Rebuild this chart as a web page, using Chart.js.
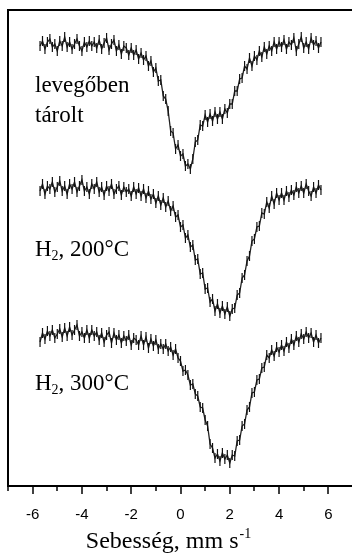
<!DOCTYPE html>
<html>
<head>
<meta charset="utf-8">
<script src="https://cdn.jsdelivr.net/npm/chart.js@4/dist/chart.umd.min.js"></script>
<style>
  html, body { margin: 0; padding: 0; background: #fff; overflow: hidden; }
  #wrap { width: 362px; height: 553px; }
</style>
</head>
<body>
<div id="wrap"><canvas id="mossbauer" width="362" height="553"></canvas></div>
<script>
// channel velocities, mm/s
const velocity = [
  -5.7, -5.6, -5.5, -5.4, -5.3, -5.2, -5.1, -5.0, -4.9, -4.8,
  -4.7, -4.6, -4.5, -4.4, -4.3, -4.2, -4.1, -4.0, -3.9, -3.8,
  -3.7, -3.6, -3.5, -3.4, -3.3, -3.2, -3.1, -3.0, -2.9, -2.8,
  -2.7, -2.6, -2.5, -2.4, -2.3, -2.2, -2.1, -2.0, -1.9, -1.8,
  -1.7, -1.6, -1.5, -1.4, -1.3, -1.2, -1.1, -1.0, -0.9, -0.8,
  -0.7, -0.6, -0.5, -0.4, -0.3, -0.2, -0.1, 0.0, 0.1, 0.2,
  0.3, 0.4, 0.5, 0.6, 0.7, 0.8, 0.9, 1.0, 1.1, 1.2,
  1.3, 1.4, 1.5, 1.6, 1.7, 1.8, 1.9, 2.0, 2.1, 2.2,
  2.3, 2.4, 2.5, 2.6, 2.7, 2.8, 2.9, 3.0, 3.1, 3.2,
  3.3, 3.4, 3.5, 3.6, 3.7, 3.8, 3.9, 4.0, 4.1, 4.2,
  4.3, 4.4, 4.5, 4.6, 4.7, 4.8, 4.9, 5.0, 5.1, 5.2,
  5.3, 5.4, 5.5, 5.6, 5.7
];

// levegőben tárolt (stacked, arbitrary units)
const storedInAir = [
  440, 445, 437, 444, 447, 439, 442, 435, 445, 440,
  449, 439, 444, 437, 442, 447, 440, 435, 444, 439,
  445, 440, 444, 438, 446, 437, 443, 448, 436, 442,
  446, 435, 441, 432, 440, 438, 431, 438, 431, 436,
  427, 433, 426, 430, 420, 425, 414, 418, 405, 406,
  390, 387, 375, 355, 353, 337, 341, 330, 332, 320,
  322, 317, 327, 344, 346, 361, 360, 371, 364, 372,
  365, 374, 367, 374, 367, 377, 373, 382, 382, 395,
  395, 407, 408, 420, 417, 428, 420, 430, 426, 435,
  429, 439, 432, 440, 435, 444, 437, 444, 439, 446,
  437, 444, 441, 448, 435, 442, 449, 438, 444, 437,
  448, 441, 445, 438, 444
];

// H2, 200 °C
const h2At200 = [
  295, 302, 292, 300, 297, 304, 294, 299, 305, 295,
  300, 292, 302, 297, 304, 294, 300, 306, 295, 299,
  292, 302, 297, 304, 294, 299, 291, 300, 295, 302,
  292, 297, 300, 291, 299, 294, 297, 290, 299, 292,
  298, 290, 297, 288, 295, 287, 292, 283, 290, 281,
  288, 279, 285, 275, 280, 269, 271, 259, 261, 248,
  251, 239, 241, 226, 227, 212, 213, 197, 198, 184,
  187, 175, 182, 173, 180, 172, 179, 170, 177, 178,
  191, 193, 208, 211, 225, 230, 245, 247, 259, 260,
  273, 272, 284, 278, 290, 282, 293, 286, 293, 286,
  295, 289, 296, 291, 299, 293, 300, 293, 302, 295,
  290, 299, 293, 301, 296
];

// H2, 300 °C
const h2At300 = [
  144, 153, 147, 155, 150, 156, 148, 152, 157, 149,
  158, 150, 159, 151, 156, 161, 150, 154, 148, 156,
  148, 156, 150, 154, 146, 153, 144, 151, 154, 143,
  153, 146, 151, 143, 150, 145, 151, 141, 148, 146,
  141, 150, 141, 149, 138, 147, 140, 146, 137, 142,
  137, 142, 135, 139, 131, 137, 128, 125, 115, 116,
  111, 101, 102, 92, 90, 79, 78, 66, 60, 42,
  38, 28, 32, 25, 33, 27, 31, 23, 31, 30,
  45, 46, 60, 62, 76, 79, 93, 94, 106, 107,
  118, 119, 131, 128, 136, 130, 139, 134, 141, 135,
  144, 138, 147, 141, 150, 144, 152, 147, 154, 148,
  153, 144, 151, 143, 148
];

const tickValues = [-7, -6, -5, -4, -3, -2, -1, 0, 1, 2, 3, 4, 5, 6, 7];
const tickLabels = [-6, -4, -2, 0, 2, 4, 6];

const serif = "'Liberation Serif', 'Times New Roman', serif";

function toPoints(ys) {
  return velocity.map((v, i) => ({ x: v, y: ys[i] }));
}

function spectrum(ys) {
  return {
    data: toPoints(ys),
    showLine: true,
    borderColor: '#222',
    borderWidth: 1.3,
    pointStyle: 'line',
    rotation: 90,
    pointRadius: 5,
    pointBorderColor: '#111',
    pointBorderWidth: 1.2,
    pointHoverRadius: 5
  };
}

// frame, minor/major ticks and the serif texts
const decorations = {
  id: 'decorations',
  afterDraw(chart) {
    const ctx = chart.ctx;
    const area = chart.chartArea;
    const xs = chart.scales.x;
    ctx.save();
    ctx.strokeStyle = '#000';
    ctx.lineWidth = 2;
    ctx.strokeRect(area.left, area.top, area.right - area.left, area.bottom - area.top);

    ctx.lineWidth = 1.5;
    tickValues.forEach(v => {
      const px = Math.round(xs.getPixelForValue(v));
      const len = tickLabels.includes(v) ? 8 : 5;
      ctx.beginPath();
      ctx.moveTo(px, area.bottom);
      ctx.lineTo(px, area.bottom + len);
      ctx.stroke();
    });

    ctx.fillStyle = '#000';
    ctx.textBaseline = 'alphabetic';
    ctx.textAlign = 'left';
    ctx.font = '23px ' + serif;
    ctx.fillText('levegőben', 35, 92);
    ctx.fillText('tárolt', 35, 122);

    function h2Label(temp, y) {
      let x = 35;
      ctx.font = '23px ' + serif;
      ctx.fillText('H', x, y);
      x += ctx.measureText('H').width;
      ctx.font = '14px ' + serif;
      ctx.fillText('2', x, y + 4);
      x += ctx.measureText('2').width;
      ctx.font = '23px ' + serif;
      ctx.fillText(', ' + temp + '°C', x, y);
    }
    h2Label('200', 256);
    h2Label('300', 390);

    // axis title with superscript
    const main = 'Sebesség, mm s';
    const sup = '-1';
    ctx.font = '24px ' + serif;
    const wMain = ctx.measureText(main).width;
    ctx.font = '14px ' + serif;
    const wSup = ctx.measureText(sup).width;
    const tx = 168 - (wMain + wSup) / 2;
    ctx.font = '24px ' + serif;
    ctx.fillText(main, tx, 548);
    ctx.font = '14px ' + serif;
    ctx.fillText(sup, tx + wMain + 1, 538);
    ctx.restore();
  }
};

const ctx = document.getElementById('mossbauer').getContext('2d');
new Chart(ctx, {
  type: 'scatter',
  data: {
    datasets: [spectrum(storedInAir), spectrum(h2At200), spectrum(h2At300)]
  },
  options: {
    responsive: false,
    animation: false,
    layout: { padding: { left: 8, top: 10, right: 9, bottom: 0 } },
    plugins: {
      legend: { display: false },
      tooltip: { enabled: false }
    },
    scales: {
      x: {
        type: 'linear',
        min: -7,
        max: 7,
        afterBuildTicks(scale) {
          scale.ticks = tickValues.map(v => ({ value: v }));
        },
        afterFit(scale) {
          scale.height = 67;
          scale.paddingLeft = 0;
          scale.paddingRight = 0;
        },
        grid: { display: false },
        border: { display: false },
        ticks: {
          padding: 12,
          color: '#000',
          font: { family: "'Liberation Sans', Arial, sans-serif", size: 15 },
          maxRotation: 0,
          autoSkip: false,
          callback: v => tickLabels.includes(v) ? String(v) : ''
        }
      },
      y: {
        display: false,
        min: 0,
        max: 476
      }
    }
  },
  plugins: [decorations]
});
</script>
</body>
</html>
